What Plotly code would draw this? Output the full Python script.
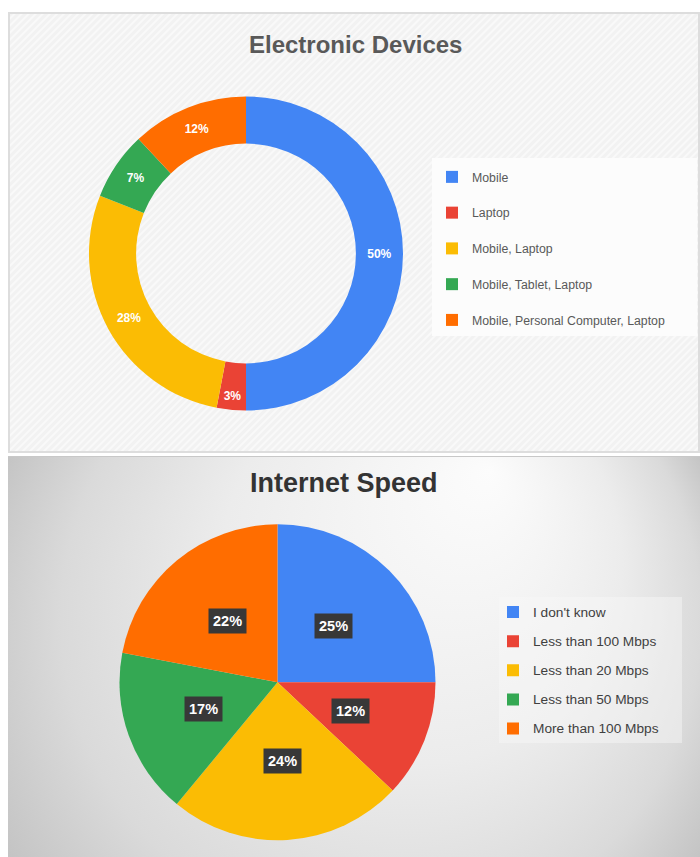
import base64
import math
import plotly.graph_objects as go

W, H = 700, 857

# ---------------- data ----------------
device_title = "Electronic Devices"
device_labels = ["Mobile", "Laptop", "Mobile, Laptop", "Mobile, Tablet, Laptop",
                 "Mobile, Personal Computer, Laptop"]
device_values = [50, 3, 28, 7, 12]

speed_title = "Internet Speed"
speed_labels = ["I don't know", "Less than 100 Mbps", "Less than 20 Mbps",
                "Less than 50 Mbps", "More than 100 Mbps"]
speed_values = [25, 12, 24, 17, 22]

slice_colors = ["#4285F4", "#EA4335", "#FBBC04", "#34A853", "#FF6D00"]

FONT = "Liberation Sans, Arial, Helvetica, sans-serif"


# ---------------- helpers ----------------
def px_domain(cx, cy, r):
    return dict(x=[(cx - r) / W, (cx + r) / W], y=[1 - (cy + r) / H, 1 - (cy - r) / H])


def svg_uri(svg):
    return "data:image/svg+xml;base64," + base64.b64encode(svg.encode()).decode()


def legend_label(text, size, shift):
    return f'<span style="font-size:{size}px;baseline-shift:{shift}px">{text}</span>'


# panel backgrounds
top_bg = """<svg xmlns='http://www.w3.org/2000/svg' width='692' height='441' viewBox='0 0 692 441' preserveAspectRatio='none'>
<defs><pattern id='p' width='5' height='5' patternUnits='userSpaceOnUse' patternTransform='rotate(45)'>
<rect width='5' height='5' fill='#f2f2f2'/><rect width='2' height='5' fill='#f9f9f9'/></pattern></defs>
<rect x='1' y='1' width='690' height='439' fill='url(#p)' stroke='#dddddd' stroke-width='2'/>
</svg>"""

bottom_bg = """<svg xmlns='http://www.w3.org/2000/svg' width='692' height='401' viewBox='0 0 692 401' preserveAspectRatio='none'>
<defs><radialGradient id='g' gradientUnits='userSpaceOnUse' cx='346' cy='200' r='400' fx='482' fy='14'>
<stop offset='0' stop-color='#fcfcfc'/><stop offset='0.5' stop-color='#ececec'/>
<stop offset='0.8' stop-color='#dadada'/><stop offset='1' stop-color='#c4c4c4'/></radialGradient></defs>
<rect width='692' height='401' fill='url(#g)'/>
<line x1='0' y1='0.5' x2='692' y2='0.5' stroke='#c8c8c8' stroke-width='1'/>
</svg>"""

# geometry (pixels)
DONUT_C = (246, 253.5)
DONUT_R = 157
PIE_C = (277.5, 682.3)
PIE_R = 158

fig = go.Figure()

fig.add_trace(go.Pie(
    labels=[legend_label(t, 12.3, 5.4) for t in device_labels],
    values=device_values,
    hole=0.70,
    sort=False,
    direction="clockwise",
    rotation=0,
    marker=dict(colors=slice_colors, line=dict(width=0)),
    texttemplate="%{percent:.0%}",
    textposition="inside",
    insidetextorientation="horizontal",
    textfont=dict(family=FONT, size=12, color="white", weight="bold"),
    domain=px_domain(DONUT_C[0], DONUT_C[1], DONUT_R),
    legend="legend",
    showlegend=True,
))

fig.add_trace(go.Pie(
    labels=[legend_label(t, 13.7, 2.9) for t in speed_labels],
    values=speed_values,
    sort=False,
    direction="clockwise",
    rotation=0,
    marker=dict(colors=slice_colors, line=dict(width=0)),
    textinfo="none",
    domain=px_domain(PIE_C[0], PIE_C[1], PIE_R),
    legend="legend2",
    showlegend=True,
))

# percentage boxes on the lower pie, placed at each slice's mid-angle
annotations = []
total = sum(speed_values)
cum = 0
for v in speed_values:
    theta = 2 * math.pi * (cum + v / 2) / total
    cum += v
    xp = PIE_C[0] + 0.5 * PIE_R * math.sin(theta)
    yp = PIE_C[1] - 0.5 * PIE_R * math.cos(theta)
    annotations.append(dict(
        x=xp / W, y=1 - yp / H, xref="paper", yref="paper", showarrow=False,
        xanchor="center", yanchor="middle",
        text=f"<b>{round(100 * v / total)}%</b>",
        font=dict(family=FONT, size=14.5, color="white"),
        bgcolor="#383838", borderpad=4,
    ))

annotations.append(dict(
    x=355 / W, y=1 - 44 / H, xref="paper", yref="paper", showarrow=False,
    text=f"<b>{device_title}</b>", font=dict(family=FONT, size=24, color="#595959"),
    xanchor="center", yanchor="middle"))
annotations.append(dict(
    x=344 / W, y=1 - 483 / H, xref="paper", yref="paper", showarrow=False,
    text=f"<b>{speed_title}</b>", font=dict(family=FONT, size=27, color="#333333"),
    xanchor="center", yanchor="middle"))

fig.update_layout(
    width=W, height=H,
    margin=dict(l=0, r=0, t=0, b=0),
    paper_bgcolor="white",
    font=dict(family=FONT),
    images=[
        dict(source=svg_uri(top_bg), xref="paper", yref="paper", x=8 / W, y=1 - 12 / H,
             sizex=692 / W, sizey=441 / H, xanchor="left", yanchor="top",
             sizing="stretch", layer="below"),
        dict(source=svg_uri(bottom_bg), xref="paper", yref="paper", x=8 / W, y=1 - 456 / H,
             sizex=692 / W, sizey=401 / H, xanchor="left", yanchor="top",
             sizing="stretch", layer="below"),
    ],
    shapes=[
        dict(type="rect", xref="paper", yref="paper", x0=432 / W, x1=697 / W,
             y0=1 - 336 / H, y1=1 - 158 / H, fillcolor="#fcfcfc", line=dict(width=0),
             layer="below"),
        dict(type="rect", xref="paper", yref="paper", x0=499 / W, x1=682 / W,
             y0=1 - 743 / H, y1=1 - 597 / H, fillcolor="rgba(248,248,248,0.45)",
             line=dict(width=0), layer="below"),
    ],
    legend=dict(x=432 / W, y=1 - 154 / H, xanchor="left", yanchor="top",
                bgcolor="rgba(0,0,0,0)", font=dict(family=FONT, size=25.2, color="#595959"),
                itemclick=False),
    legend2=dict(x=493 / W, y=1 - 592.5 / H, xanchor="left", yanchor="top",
                 bgcolor="rgba(0,0,0,0)", font=dict(family=FONT, size=20.1, color="#404040"),
                 itemclick=False),
    annotations=annotations,
)

fig.write_html(
    "out.html",
    config={"displayModeBar": False},
    post_script="document.body.style.margin='0px';document.body.style.overflow='hidden';",
)
